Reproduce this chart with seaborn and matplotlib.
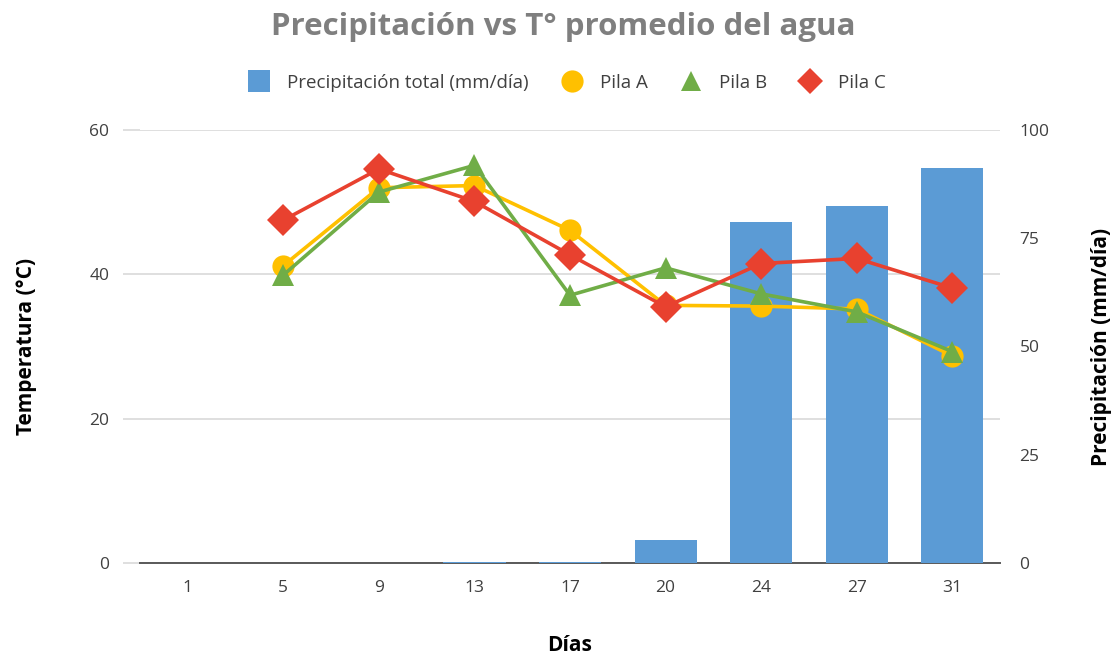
import numpy as np
import pandas as pd
import matplotlib
matplotlib.use("Agg")
import matplotlib.pyplot as plt
from matplotlib.lines import Line2D
import seaborn as sns

# Días de muestreo y datos medidos
dias = ["1", "5", "9", "13", "17", "20", "24", "27", "31"]
precipitacion = [0.0, 0.0, 0.0, 0.2, 0.3, 5.3, 78.8, 82.4, 91.2]
pila_a = [np.nan, 41.2, 52.0, 52.3, 46.1, 35.7, 35.6, 35.2, 28.7]
pila_b = [np.nan, 39.9, 51.4, 55.1, 37.1, 40.9, 37.3, 34.8, 29.3]
pila_c = [np.nan, 47.5, 54.6, 50.1, 42.7, 35.5, 41.5, 42.2, 38.1]

temp_ticks = [0, 20, 40, 60]
prec_ticks = [0, 25, 50, 75, 100]

AZUL = "#5B9BD5"
AMARILLO = "#FFC000"
VERDE = "#70AD47"
ROJO = "#E8412F"
GRIS_TXT = "#404040"

sns.set_theme(style="white")
plt.rcParams["font.family"] = ["Open Sans", "DejaVu Sans"]

pos = np.arange(len(dias))
df_prec = pd.DataFrame({"pos": pos, "dia": dias, "prec": precipitacion})
df_temp = pd.DataFrame({"pos": pos, "Pila A": pila_a, "Pila B": pila_b, "Pila C": pila_c})
df_long = df_temp.melt(id_vars="pos", var_name="pila", value_name="temp")

fig = plt.figure(figsize=(11.13, 6.6), dpi=100)
rect = [140 / 1113, 1 - 563 / 660, 860 / 1113, (563 - 130) / 660]

# Eje de temperatura: cuadrícula y escala izquierda
ax_t = fig.add_axes(rect)
ax_t.set_ylim(0, 60)
ax_t.set_xlim(-0.5, len(dias) - 0.5)
ax_t.set_yticks(temp_ticks)
ax_t.set_xticks(pos)
ax_t.set_xticklabels(dias)
ax_t.yaxis.grid(True, color="#D9D9D9", linewidth=1.2)
ax_t.tick_params(axis="y", left=True, right=True, length=12, width=1.2,
                 color="#D9D9D9", labelsize=12.5, labelcolor=GRIS_TXT, pad=10)
ax_t.tick_params(axis="x", bottom=False, labelsize=12.5, labelcolor=GRIS_TXT, pad=6)
for s in ["top", "left", "right"]:
    ax_t.spines[s].set_visible(False)
ax_t.spines["bottom"].set_color("#595959")
ax_t.spines["bottom"].set_linewidth(1.4)
ax_t.set_ylabel("Temperatura (°C)", fontsize=15, fontweight="bold", color="black", labelpad=38)
ax_t.set_xlabel("Días", fontsize=15, fontweight="bold", color="black", labelpad=28)

# Eje de precipitación: barras y escala derecha
ax_p = ax_t.twinx()
sns.barplot(data=df_prec, x="pos", y="prec", color=AZUL, saturation=1,
            width=0.65, linewidth=0, ax=ax_p, zorder=2)
ax_p.set_ylim(0, 100)
ax_p.set_xlim(-0.5, len(dias) - 0.5)
ax_p.set_yticks(prec_ticks)
ax_p.tick_params(axis="y", right=True, length=0, labelsize=12.5, labelcolor=GRIS_TXT, pad=14)
ax_p.set_ylabel("Precipitación (mm/día)", fontsize=15, fontweight="bold", color="black", labelpad=30)
ax_p.set_xlabel("")
for s in ax_p.spines.values():
    s.set_visible(False)
ax_p.patch.set_visible(False)

# Eje superpuesto para las series de temperatura
ax_l = ax_t.twinx()
ax_l.set_ylim(0, 60)
ax_l.set_xlim(-0.5, len(dias) - 0.5)
sns.lineplot(data=df_long, x="pos", y="temp", hue="pila", style="pila",
             palette={"Pila A": AMARILLO, "Pila B": VERDE, "Pila C": ROJO},
             markers={"Pila A": "o", "Pila B": "^", "Pila C": "D"},
             dashes=False, linewidth=2.6, markersize=16, markeredgewidth=0,
             legend=False, ax=ax_l)
ax_l.set_axis_off()

# Leyenda superior
handles = [
    Line2D([], [], linestyle="none", marker="s", markersize=16, color=AZUL, markeredgewidth=0),
    Line2D([], [], linestyle="none", marker="o", markersize=16, color=AMARILLO, markeredgewidth=0),
    Line2D([], [], linestyle="none", marker="^", markersize=14, color=VERDE, markeredgewidth=0),
    Line2D([], [], linestyle="none", marker="D", markersize=13, color=ROJO, markeredgewidth=0),
]
labels = ["Precipitación total (mm/día)", "Pila A", "Pila B", "Pila C"]
fig.legend(handles, labels, loc="center", bbox_to_anchor=(563 / 1113, 1 - 83 / 660),
           ncol=4, frameon=False, fontsize=13.5, handletextpad=0.5, columnspacing=1.3,
           labelcolor=GRIS_TXT)

fig.text(563 / 1113, 1 - 27 / 660, "Precipitación vs T° promedio del agua",
         ha="center", va="center", fontsize=22.5, fontweight="bold", color="#7F7F7F")

fig.savefig("out.png", dpi=100, facecolor="white")
